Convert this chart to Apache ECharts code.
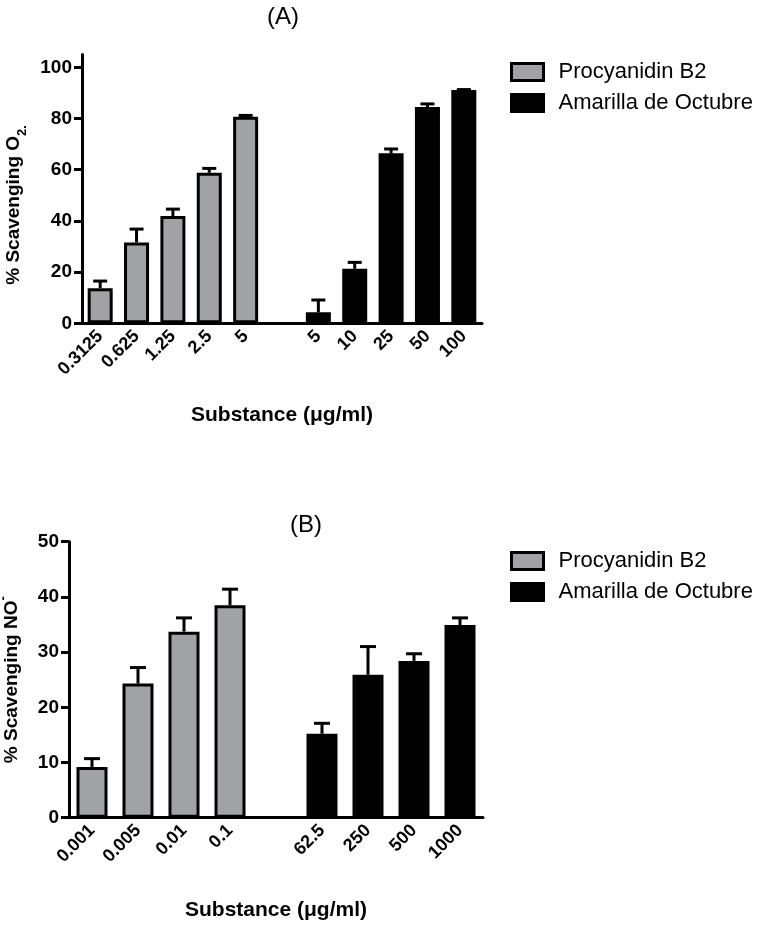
<!DOCTYPE html>
<html>
<head>
<meta charset="utf-8">
<script src="https://cdn.jsdelivr.net/npm/echarts@6/dist/echarts.min.js"></script>
<style>
  html, body { margin: 0; padding: 0; background: #fff; }
  #chart { width: 762px; height: 927px; }
</style>
</head>
<body>
<div id="chart"></div>
<script>
// (A) superoxide scavenging
var procDosesA = ['0.3125', '0.625', '1.25', '2.5', '5'];
var procA = [13.7, 31.6, 41.9, 58.8, 80.7];
var procErrA = [2.8, 5.2, 2.7, 1.7, 0.5];
var amaDosesA = ['5', '10', '25', '50', '100'];
var amaA = [4.3, 21.3, 66.4, 84.5, 91.1];
var amaErrA = [4.8, 2.5, 1.7, 1.2, 0.2];
var ticksA = [0, 20, 40, 60, 80, 100];

// (B) nitric oxide scavenging
var procDosesB = ['0.001', '0.005', '0.01', '0.1'];
var procB = [9.2, 24.3, 33.7, 38.5];
var procErrB = [1.5, 2.9, 2.5, 2.9];
var amaDosesB = ['62.5', '250', '500', '1000'];
var amaB = [15.2, 25.9, 28.4, 34.9];
var amaErrB = [1.9, 5.1, 1.3, 1.3];
var ticksB = [0, 10, 20, 30, 40, 50];

var FONT = "'Liberation Sans', Arial, sans-serif";
var GREY = '#a1a2a6';

// bar data with an empty slot between the two groups
function padRight(arr, n) {
    var out = arr.slice();
    for (var i = 0; i < n; i++) out.push('-');
    return out;
}
function padLeft(arr, n) {
    var out = [];
    for (var i = 0; i < n; i++) out.push('-');
    return out.concat(arr);
}
function errData(vals, errs, offset) {
    return vals.map(function (v, i) { return [i + offset, v, errs[i]]; });
}

function errorBar(half) {
    return function (params, api) {
        var x = api.value(0), v = api.value(1), e = api.value(2);
        var p0 = api.coord([x, v]);
        var p1 = api.coord([x, v + e]);
        var st = { stroke: '#000', lineWidth: 3 };
        return {
            type: 'group',
            children: [
                { type: 'line', shape: { x1: p0[0], y1: p0[1], x2: p1[0], y2: p1[1] }, style: st },
                { type: 'line', shape: { x1: p1[0] - half, y1: p1[1], x2: p1[0] + half, y2: p1[1] }, style: st }
            ]
        };
    };
}

var catsA = procDosesA.concat([''], amaDosesA);
var catsB = procDosesB.concat([''], amaDosesB);

function xAxis(idx, cats, gap) {
    return {
        type: 'category',
        gridIndex: idx,
        data: cats,
        name: 'Substance (\u03bcg/ml)',
        nameLocation: 'middle',
        nameGap: gap,
        nameTextStyle: { fontFamily: FONT, fontWeight: 'bold', fontSize: 21, color: '#000' },
        axisLine: { lineStyle: { color: '#000', width: 3 } },
        axisTick: { alignWithLabel: true, length: 7, lineStyle: { color: '#000', width: 3 } },
        axisLabel: { interval: 0, rotate: 45, margin: 10, fontFamily: FONT, fontWeight: 'bold', fontSize: 18, color: '#000' },
        splitLine: { show: false }
    };
}

function yAxis(idx, max, ticks, nameRich, gap, pad) {
    return {
        type: 'value',
        gridIndex: idx,
        min: 0,
        max: max,
        name: nameRich.text,
        nameLocation: 'middle',
        nameGap: gap,
        nameTextStyle: {
            fontFamily: FONT, fontWeight: 'bold', fontSize: 19, color: '#000',
            lineHeight: 24, padding: pad,
            rich: nameRich.rich
        },
        axisLine: { show: true, lineStyle: { color: '#000', width: 3 } },
        axisTick: { show: true, length: 8, customValues: ticks, lineStyle: { color: '#000', width: 3 } },
        axisLabel: { customValues: ticks, margin: 10, fontFamily: FONT, fontWeight: 'bold', fontSize: 19, color: '#000' },
        splitLine: { show: false }
    };
}

function legend(top) {
    return {
        orient: 'vertical',
        left: 505,
        top: top,
        itemWidth: 32,
        itemHeight: 17,
        itemGap: 9,
        textStyle: { fontFamily: FONT, fontSize: 22, color: '#000', padding: [0, 0, 0, 10] },
        data: [
            { name: 'Procyanidin B2', icon: 'rect', itemStyle: { color: GREY, borderColor: '#000', borderWidth: 3 } },
            { name: 'Amarilla de Octubre', icon: 'rect', itemStyle: { color: '#000', borderColor: '#000', borderWidth: 3 } }
        ]
    };
}

function bar(name, data, color, xi, bw) {
    return {
        type: 'bar',
        name: name,
        xAxisIndex: xi,
        yAxisIndex: xi,
        data: data,
        barWidth: bw,
        barGap: '-100%',
        itemStyle: { color: color, borderColor: '#000', borderWidth: 3 },
        z: 2
    };
}

function errSeries(name, data, xi, half) {
    return {
        type: 'custom',
        name: name,
        xAxisIndex: xi,
        yAxisIndex: xi,
        data: data,
        encode: { x: 0, y: 1 },
        renderItem: errorBar(half),
        z: 3,
        silent: true
    };
}

var chart = echarts.init(document.getElementById('chart'), null, { renderer: 'canvas' });

var option = {
    animation: false,
    backgroundColor: '#fff',
    graphic: [
        { type: 'text', x: 283, y: 17, style: { text: '(A)', font: '24px ' + FONT, fill: '#000', textAlign: 'center', textVerticalAlign: 'middle' } },
        { type: 'text', x: 306, y: 525, style: { text: '(B)', font: '24px ' + FONT, fill: '#000', textAlign: 'center', textVerticalAlign: 'middle' } }
    ],
    legend: [legend(56), legend(545)],
    grid: [
        { left: 82, top: 54.5, width: 400, height: 268.8, outerBoundsMode: 'none' },
        { left: 69, top: 541.7, width: 414, height: 276, outerBoundsMode: 'none' }
    ],
    xAxis: [xAxis(0, catsA, 81), xAxis(1, catsB, 82)],
    yAxis: [
        yAxis(0, 105, ticksA, {
            text: '% Scavenging O{sub|2.}',
            rich: { sub: { fontFamily: FONT, fontWeight: 'bold', fontSize: 13, color: '#000', lineHeight: 32, verticalAlign: 'bottom' } }
        }, 50, [0, 32, 0, 0]),
        yAxis(1, 50, ticksB, {
            text: '% Scavenging NO{sup|-}',
            rich: { sup: { fontFamily: FONT, fontWeight: 'bold', fontSize: 13, color: '#000', lineHeight: 30, verticalAlign: 'top' } }
        }, 38, [0, 0, 0, 0])
    ],
    series: [
        bar('Procyanidin B2', padRight(procA, amaA.length + 1), GREY, 0, 25),
        bar('Amarilla de Octubre', padLeft(amaA, procA.length + 1), '#000', 0, 25),
        errSeries('Procyanidin B2', errData(procA, procErrA, 0), 0, 7),
        errSeries('Amarilla de Octubre', errData(amaA, amaErrA, procA.length + 1), 0, 7),
        bar('Procyanidin B2', padRight(procB, amaB.length + 1), GREY, 1, 31),
        bar('Amarilla de Octubre', padLeft(amaB, procB.length + 1), '#000', 1, 31),
        errSeries('Procyanidin B2', errData(procB, procErrB, 0), 1, 8),
        errSeries('Amarilla de Octubre', errData(amaB, amaErrB, procB.length + 1), 1, 8)
    ]
};

chart.setOption(option);
</script>
</body>
</html>
